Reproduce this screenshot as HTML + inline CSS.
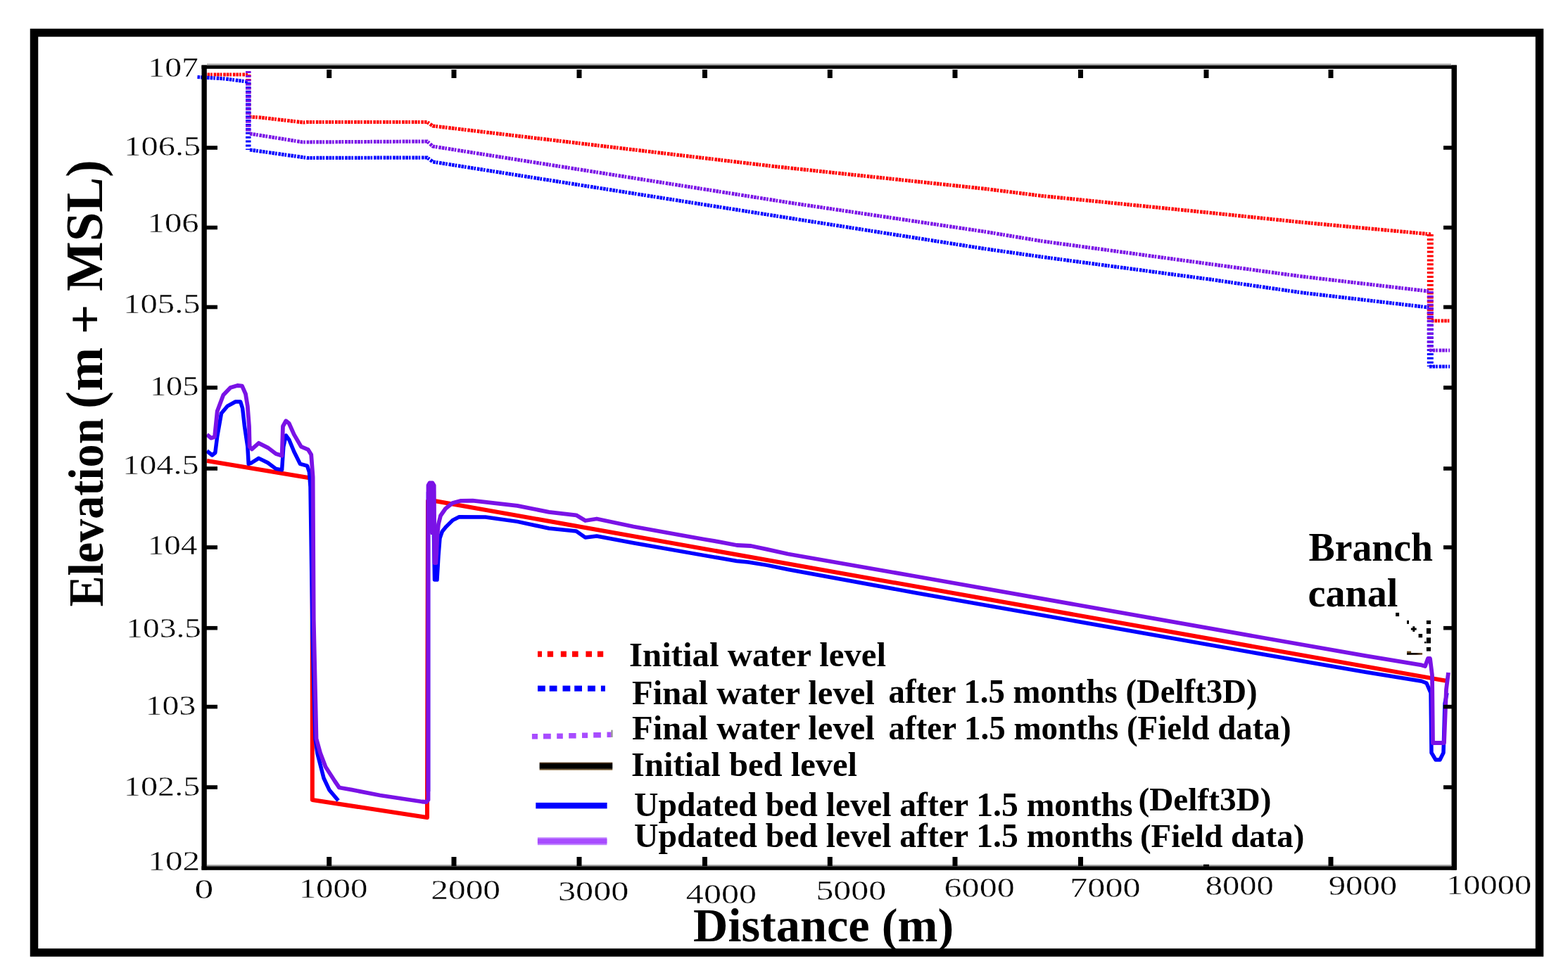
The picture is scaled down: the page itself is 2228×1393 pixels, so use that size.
<!DOCTYPE html><html><head><meta charset="utf-8"><title>Elevation profile along canal</title><style>html,body{margin:0;padding:0;background:#fff;overflow:hidden;}svg{display:block;}.tk{font-family:"Liberation Serif","Times New Roman",serif;fill:#000;stroke:#fff;stroke-width:0.4px;}.bd{font-family:"Liberation Serif","Times New Roman",serif;font-weight:bold;fill:#000;}</style></head><body>
<svg width="2228" height="1393" viewBox="0 0 2228 1393">
<rect x="0" y="0" width="2228" height="1393" fill="#fff"/>
<rect x="48.5" y="46.5" width="2139" height="1307.5" fill="none" stroke="#000" stroke-width="11.5"/>
<polyline points="290.0,106.0 352.0,106.0" fill="none" stroke="#ff0000" stroke-width="5.2" stroke-dasharray="3.6 1 3.6 1 2.6 1.8"/>
<polyline points="354.0,166.0 370.0,167.0 431.0,174.0 437.0,173.5 607.0,173.5 615.0,179.0 1100.0,236.5 1400.0,268.4 1480.0,278.4 1720.0,302.5 1850.0,316.0 2033.0,333.0" fill="none" stroke="#ff0000" stroke-width="5.2" stroke-dasharray="3.6 1 3.6 1 2.6 1.8"/>
<polyline points="2034.0,456.0 2060.0,456.0" fill="none" stroke="#ff0000" stroke-width="5.2" stroke-dasharray="3.6 1 3.6 1 2.6 1.8"/>
<polyline points="352.8,106.0 352.8,166.0" fill="none" stroke="#ff0000" stroke-width="7.5" stroke-dasharray="3 2.9"/>
<polyline points="2032.3,333.0 2032.3,456.0" fill="none" stroke="#ff0000" stroke-width="9" stroke-dasharray="3 2.9"/>
<polyline points="280.5,109.5 320.0,112.0 350.0,116.0 352.0,117.0" fill="none" stroke="#0000ff" stroke-width="5.2" stroke-dasharray="3.6 1 3.6 1 2.6 1.8"/>
<polyline points="355.0,213.0 437.0,224.5 607.0,224.0 615.0,230.0 1120.0,309.7 1400.0,353.7 1480.0,365.1 1720.0,397.2 1850.0,416.0 2030.0,437.0" fill="none" stroke="#0000ff" stroke-width="5.2" stroke-dasharray="3.6 1 3.6 1 2.6 1.8"/>
<polyline points="2031.0,521.0 2060.0,521.0" fill="none" stroke="#0000ff" stroke-width="5.2" stroke-dasharray="3.6 1 3.6 1 2.6 1.8"/>
<polyline points="352.8,117.0 352.8,213.0" fill="none" stroke="#0000ff" stroke-width="7.5" stroke-dasharray="3 2.9"/>
<polyline points="2032.3,437.0 2032.3,521.0" fill="none" stroke="#0000ff" stroke-width="9" stroke-dasharray="3 2.9"/>
<polyline points="355.0,190.0 430.0,202.0 437.0,202.0 607.0,201.0 615.0,208.0 1120.0,287.8 1400.0,329.4 1480.0,342.7 1720.0,375.4 1850.0,393.0 2030.0,414.0" fill="none" stroke="#7a12e6" stroke-width="5.2" stroke-dasharray="3.6 1 3.6 1 2.6 1.8"/>
<polyline points="2031.0,498.0 2060.0,498.0" fill="none" stroke="#7a12e6" stroke-width="5.2" stroke-dasharray="3.6 1 3.6 1 2.6 1.8"/>
<polyline points="352.8,101.0 352.8,190.0" fill="none" stroke="#7a12e6" stroke-width="7.5" stroke-dasharray="3 2.9"/>
<polyline points="2032.3,414.0 2032.3,498.0" fill="none" stroke="#7a12e6" stroke-width="9" stroke-dasharray="3 2.9"/>
<polyline points="294.0,655.0 441.0,679.5 443.8,680.0 443.8,1137.0 607.0,1162.0 607.0,1140.0 608.0,712.3 619.0,712.2 2055.0,967.8" fill="none" stroke="#ff0000" stroke-width="6" stroke-linejoin="round"/>
<polyline points="294.0,641.0 301.5,647.0 305.8,643.5 308.7,620.5 314.5,587.5 323.0,577.4 334.6,571.0 341.7,571.0 344.6,580.3 347.5,606.0 351.8,634.9 353.2,659.3 357.5,657.8 367.6,651.4 380.5,657.8 392.0,666.4 400.6,667.9 402.8,634.9 406.3,619.0 410.7,624.8 417.8,642.0 426.4,659.3 436.5,662.1 439.4,670.8 441.0,692.0 444.0,900.0 448.0,1050.0 451.0,1071.0 460.0,1106.0 467.8,1122.7 480.7,1138.0" fill="none" stroke="#0000ff" stroke-width="5.5" stroke-linejoin="round"/>
<polyline points="608.5,1125.0 608.5,700.0 612.0,690.0 615.5,700.0 617.5,824.0 621.0,824.0 623.0,790.0 625.0,765.0 628.3,755.5 634.0,748.6 643.3,739.4 652.5,734.8 689.8,735.0 735.0,741.4 780.0,751.0 818.8,755.0 831.7,764.0 847.9,762.0 900.0,771.7 1000.0,789.4 1020.0,792.8 1047.0,797.5 1063.0,799.0 1090.0,803.4 1120.0,809.5 1300.0,842.5 1800.0,931.0 1940.0,955.3 2020.0,968.3 2027.0,971.0 2033.0,985.0 2034.0,1070.0 2040.0,1080.0 2046.0,1080.0 2051.0,1070.0 2053.0,1000.0 2056.0,985.0" fill="none" stroke="#0000ff" stroke-width="5.5" stroke-linejoin="round"/>
<polyline points="294.0,617.6 300.0,622.7 305.0,621.0 308.7,584.6 317.3,561.6 327.4,551.0 337.4,548.0 344.0,548.7 349.0,560.0 351.8,577.4 354.0,606.0 354.7,634.9 358.0,638.4 367.6,629.8 380.5,636.3 392.0,645.0 400.6,647.8 402.0,606.0 406.3,598.2 410.7,601.8 417.8,617.6 427.9,634.9 437.9,639.2 442.2,646.3 444.6,678.0 445.7,880.0 448.4,1000.0 449.5,1050.0 455.0,1070.0 462.6,1090.0 475.5,1110.0 482.0,1119.5 500.0,1122.7 540.0,1130.5 599.6,1139.5 606.0,1140.0 608.5,1137.0 608.5,690.0 610.5,686.5 614.5,686.5 616.5,690.0 617.5,800.0 619.5,800.0 621.5,760.0 623.0,745.0 626.0,733.0 633.0,723.0 643.0,715.0 655.0,711.8 671.7,711.7 735.0,718.8 780.0,727.8 818.8,732.3 831.7,740.0 847.9,737.5 900.0,748.5 1000.0,766.5 1020.0,769.9 1047.0,775.0 1067.0,776.0 1090.0,780.9 1120.0,787.5 1300.0,819.0 1800.0,907.5 1940.0,932.1 2020.0,945.4 2025.0,947.0 2029.0,936.0 2032.0,936.0 2035.0,960.0 2036.0,1056.0 2052.0,1056.0 2055.0,980.0 2058.0,956.0" fill="none" stroke="#7a12e6" stroke-width="5.8" stroke-linejoin="round"/>
<polygon points="606,689 608.5,685.3 616.5,685.3 619.3,689 619.6,745 617,760 612,760 606,745" fill="#7a12e6"/>
<g fill="#000">
<rect x="286.5" y="92.5" width="7.3" height="1144"/>
<rect x="2062.5" y="92.5" width="7.5" height="1144"/>
<rect x="286.5" y="92.8" width="1783" height="5"/>
<rect x="286.5" y="1231.2" width="1783" height="5.6"/>
<rect x="294" y="1229.2" width="1768" height="2" fill="#9a9a9a"/>
<rect x="294" y="90.6" width="1768" height="2.2" fill="#9a9a9a"/>
<rect x="464.2" y="99" width="7" height="12"/>
<rect x="464.2" y="1218" width="7" height="13"/>
<rect x="641.5" y="99" width="7" height="12"/>
<rect x="641.5" y="1218" width="7" height="13"/>
<rect x="819.5" y="99" width="7" height="12"/>
<rect x="819.5" y="1218" width="7" height="13"/>
<rect x="998.0" y="99" width="7" height="12"/>
<rect x="998.0" y="1218" width="7" height="13"/>
<rect x="1175.8" y="99" width="7" height="12"/>
<rect x="1175.8" y="1218" width="7" height="13"/>
<rect x="1353.5" y="99" width="7" height="12"/>
<rect x="1353.5" y="1218" width="7" height="13"/>
<rect x="1532.0" y="99" width="7" height="12"/>
<rect x="1532.0" y="1218" width="7" height="13"/>
<rect x="1710.5" y="99" width="7" height="12"/>
<rect x="1710.0" y="1228.7" width="8" height="3"/>
<rect x="1887.5" y="99" width="7" height="12"/>
<rect x="1887.5" y="1218" width="7" height="13"/>
<rect x="293" y="207.2" width="16" height="5.6"/>
<rect x="2051" y="207.2" width="12" height="5.6"/>
<rect x="293" y="320.7" width="16" height="5.6"/>
<rect x="2051" y="320.7" width="12" height="5.6"/>
<rect x="293" y="433.7" width="16" height="5.6"/>
<rect x="2051" y="433.7" width="12" height="5.6"/>
<rect x="293" y="548.2" width="16" height="5.6"/>
<rect x="2051" y="548.2" width="12" height="5.6"/>
<rect x="293" y="663.2" width="16" height="5.6"/>
<rect x="2051" y="663.2" width="12" height="5.6"/>
<rect x="293" y="775.2" width="16" height="5.6"/>
<rect x="2051" y="775.2" width="12" height="5.6"/>
<rect x="293" y="889.9" width="16" height="5.6"/>
<rect x="2051" y="889.9" width="12" height="5.6"/>
<rect x="293" y="1001.8" width="16" height="5.6"/>
<rect x="2051" y="1001.8" width="12" height="5.6"/>
<rect x="293" y="1116.2" width="16" height="5.6"/>
<rect x="2051" y="1116.2" width="12" height="5.6"/>
</g>
<g fill="#ff0000"><rect x="764" y="925.6" width="6.0" height="8.2"/><rect x="777.8" y="925.6" width="8.3" height="8.2"/><rect x="796.8" y="925.6" width="8.1" height="8.2"/><rect x="813" y="925.6" width="8.6" height="8.2"/><rect x="832.4" y="925.6" width="8.6" height="8.2"/><rect x="848.9" y="925.6" width="8.3" height="8.2"/></g>
<g fill="#0000ff"><rect x="764" y="974.6" width="10.8" height="8.1"/><rect x="780.7" y="974.6" width="10.8" height="8.1"/><rect x="799.5" y="974.6" width="10.8" height="8.1"/><rect x="816.2" y="974.6" width="10.8" height="8.1"/><rect x="835" y="974.6" width="10.9" height="8.1"/><rect x="853.9" y="974.6" width="6.0" height="8.1"/></g>
<g fill="#a84cff"><rect x="755.9" y="1043" width="8.1" height="7.6"/><rect x="772" y="1042.8" width="10.8" height="7.6"/><rect x="791.2" y="1042.5" width="8.6" height="7.6"/><rect x="808.2" y="1042" width="10.4" height="7.6"/><rect x="827" y="1041.5" width="8.1" height="7.6"/><rect x="843.2" y="1041" width="10.7" height="7.6"/><rect x="862.5" y="1040.5" width="6.0" height="7.6"/></g>
<rect x="868.5" y="1037.6" width="2" height="10.3" fill="#888"/>
<defs><linearGradient id="bk" x1="0" y1="0" x2="0" y2="1"><stop offset="0" stop-color="#5a3a18"/><stop offset="0.25" stop-color="#000"/><stop offset="0.72" stop-color="#000"/><stop offset="1" stop-color="#b89868"/></linearGradient></defs>
<rect x="766.6" y="1083.7" width="103.7" height="11.2" fill="url(#bk)"/>
<rect x="761.3" y="1140.9" width="101.3" height="8.5" fill="#0000ff"/>
<rect x="763.9" y="1190.3" width="98.5" height="10.9" fill="#bf80ff"/>
<rect x="763.9" y="1192.2" width="98.5" height="6.9" fill="#a84cff"/>
<g fill="#000">
<rect x="1983.1" y="870.9" width="5.0" height="5.2"/>
<rect x="1999.1" y="881.9" width="2.9" height="5.0"/>
<rect x="2015.6" y="901" width="5.5" height="5.3"/>
<rect x="2024" y="912" width="2.6" height="2.4"/>
<rect x="2026.9" y="881.9" width="6.1" height="5.2"/>
<rect x="2026.9" y="892.9" width="6.1" height="7.9"/>
<rect x="2026.9" y="906.3" width="6.1" height="8.1"/>
<rect x="2026.9" y="919.9" width="6.1" height="5.7"/>
<rect x="2004.9" y="892.6" width="7.8" height="3"/><rect x="2007.3" y="890.3" width="3" height="7.6"/>
</g>
<defs><linearGradient id="br" x1="0" y1="0" x2="1" y2="0"><stop offset="0" stop-color="#000"/><stop offset="0.6" stop-color="#1a0c02"/><stop offset="1" stop-color="#7a5a30"/></linearGradient></defs>
<rect x="1999.1" y="928" width="22" height="2.8" fill="url(#br)"/><rect x="1999.1" y="925.6" width="6" height="2.6" fill="#6a4a20"/>
<text class="tk" font-size="39.5" x="210.34" y="109.00" textLength="71.58" lengthAdjust="spacingAndGlyphs">107</text>
<text class="tk" font-size="39.5" x="176.31" y="221.00" textLength="108.99" lengthAdjust="spacingAndGlyphs">106.5</text>
<text class="tk" font-size="39.5" x="209.63" y="330.00" textLength="73.10" lengthAdjust="spacingAndGlyphs">106</text>
<text class="tk" font-size="39.5" x="175.21" y="444.50" textLength="109.41" lengthAdjust="spacingAndGlyphs">105.5</text>
<text class="tk" font-size="39.5" x="212.90" y="562.00" textLength="69.60" lengthAdjust="spacingAndGlyphs">105</text>
<text class="tk" font-size="39.5" x="174.16" y="674.00" textLength="108.39" lengthAdjust="spacingAndGlyphs">104.5</text>
<text class="tk" font-size="39.5" x="209.79" y="788.00" textLength="70.67" lengthAdjust="spacingAndGlyphs">104</text>
<text class="tk" font-size="39.5" x="179.39" y="905.50" textLength="106.67" lengthAdjust="spacingAndGlyphs">103.5</text>
<text class="tk" font-size="39.5" x="206.84" y="1015.50" textLength="71.36" lengthAdjust="spacingAndGlyphs">103</text>
<text class="tk" font-size="39.5" x="175.76" y="1130.50" textLength="108.58" lengthAdjust="spacingAndGlyphs">102.5</text>
<text class="tk" font-size="39.5" x="210.25" y="1237.00" textLength="73.97" lengthAdjust="spacingAndGlyphs">102</text>
<text class="tk" font-size="39.5" x="276.60" y="1277.00" textLength="26.78" lengthAdjust="spacingAndGlyphs">0</text>
<text class="tk" font-size="39.5" x="424.65" y="1275.50" textLength="97.79" lengthAdjust="spacingAndGlyphs">1000</text>
<text class="tk" font-size="39.5" x="612.16" y="1278.00" textLength="98.95" lengthAdjust="spacingAndGlyphs">2000</text>
<text class="tk" font-size="39.5" x="792.91" y="1280.00" textLength="100.46" lengthAdjust="spacingAndGlyphs">3000</text>
<text class="tk" font-size="39.5" x="974.88" y="1284.00" textLength="100.14" lengthAdjust="spacingAndGlyphs">4000</text>
<text class="tk" font-size="39.5" x="1159.41" y="1279.00" textLength="99.85" lengthAdjust="spacingAndGlyphs">5000</text>
<text class="tk" font-size="39.5" x="1341.55" y="1275.00" textLength="100.24" lengthAdjust="spacingAndGlyphs">6000</text>
<text class="tk" font-size="39.5" x="1520.29" y="1275.00" textLength="100.30" lengthAdjust="spacingAndGlyphs">7000</text>
<text class="tk" font-size="39.5" x="1712.67" y="1272.00" textLength="97.10" lengthAdjust="spacingAndGlyphs">8000</text>
<text class="tk" font-size="39.5" x="1887.67" y="1272.00" textLength="97.53" lengthAdjust="spacingAndGlyphs">9000</text>
<text class="tk" font-size="39.5" x="2055.14" y="1271.00" textLength="121.06" lengthAdjust="spacingAndGlyphs">10000</text>
<text class="bd" font-size="49.5" x="894.03" y="947.20" textLength="365.03" lengthAdjust="spacingAndGlyphs">Initial water level</text>
<text class="bd" font-size="49.5" x="898.02" y="1001.30" textLength="344.77" lengthAdjust="spacingAndGlyphs">Final water level</text>
<text class="bd" font-size="47.5" x="1262.52" y="999.00" textLength="524.01" lengthAdjust="spacingAndGlyphs">after 1.5 months (Delft3D)</text>
<text class="bd" font-size="49.5" x="898.02" y="1051.00" textLength="344.77" lengthAdjust="spacingAndGlyphs">Final water level</text>
<text class="bd" font-size="47.5" x="1262.51" y="1050.60" textLength="572.08" lengthAdjust="spacingAndGlyphs">after 1.5 months (Field data)</text>
<text class="bd" font-size="49.5" x="897.02" y="1103.40" textLength="321.03" lengthAdjust="spacingAndGlyphs">Initial bed level</text>
<text class="bd" font-size="49" x="901.02" y="1159.70" textLength="708.60" lengthAdjust="spacingAndGlyphs">Updated bed level after 1.5 months</text>
<text class="bd" font-size="45.5" x="1617.43" y="1152.00" textLength="189.09" lengthAdjust="spacingAndGlyphs">(Delft3D)</text>
<text class="bd" font-size="49" x="901.02" y="1203.50" textLength="708.60" lengthAdjust="spacingAndGlyphs">Updated bed level after 1.5 months</text>
<text class="bd" font-size="45.5" x="1619.93" y="1203.50" textLength="233.35" lengthAdjust="spacingAndGlyphs">(Field data)</text>
<text class="bd" font-size="57" x="1859.51" y="796.70" textLength="176.50" lengthAdjust="spacingAndGlyphs">Branch</text>
<text class="bd" font-size="56" x="1858.49" y="862.20" textLength="127.97" lengthAdjust="spacingAndGlyphs">canal</text>
<text class="bd" font-size="68.5" x="985.00" y="1337.50" textLength="370.34" lengthAdjust="spacingAndGlyphs">Distance (m)</text>
<text class="bd" font-size="70" transform="translate(146,862.6) rotate(-90)" textLength="268" lengthAdjust="spacingAndGlyphs">Elevation</text>
<text class="bd" font-size="75" transform="translate(144.8,581) rotate(-90)" textLength="354" lengthAdjust="spacingAndGlyphs">(m + MSL)</text>
</svg></body></html>
